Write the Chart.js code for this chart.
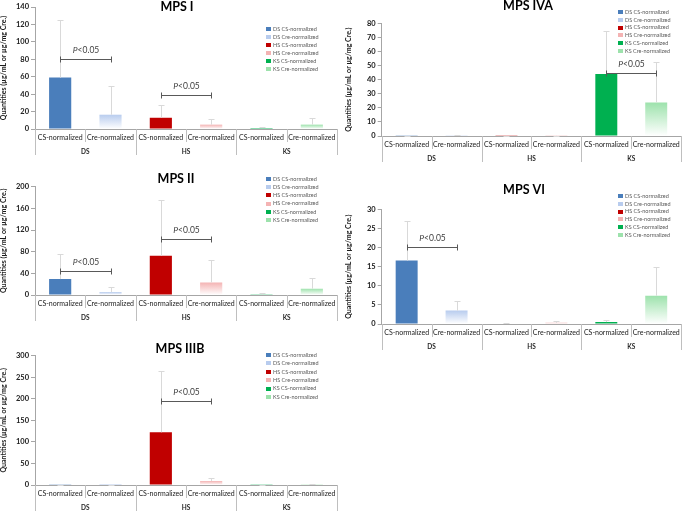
<!DOCTYPE html>
<html>
<head>
<meta charset="utf-8">
<script src="https://cdn.jsdelivr.net/npm/chart.js@4.4.1/dist/chart.umd.min.js"></script>
<style>
  html, body { margin: 0; padding: 0; background: #fff; overflow: hidden; }
  body { width: 685px; height: 513px; position: relative; }
  canvas { position: absolute; }
</style>
</head>
<body>
<canvas id="mps1"></canvas>
<canvas id="mps2"></canvas>
<canvas id="mps3b"></canvas>
<canvas id="mps4a"></canvas>
<canvas id="mps6"></canvas>
<script>
// data
const categories = ["CS-normalized", "Cre-normalized", "CS-normalized", "Cre-normalized", "CS-normalized", "Cre-normalized"];
const groups = ["DS", "HS", "KS"];
const seriesNames = ["DS CS-normalized", "DS Cre-normalized", "HS CS-normalized", "HS Cre-normalized", "KS CS-normalized", "KS Cre-normalized"];
const yLabel = "Quantities (\u00b5g/mL or \u00b5g/mg Cre.)";

const mps1Mean = [59, 16.4, 12.9, 5, 1.1, 5];
const mps1Sd = [66.5, 33, 14.5, 6.8, 0.8, 7.9];
const mps1Pairs = [[0, 1, 80], [2, 3, 39]];

const mps2Mean = [29.4, 5.5, 72.4, 23.3, 0.5, 11.7];
const mps2Sd = [46.1, 8.5, 103.1, 41.7, 3.2, 19.6];
const mps2Pairs = [[0, 1, 43.6], [2, 3, 102.5]];

const mps3bMean = [0.3, 0.2, 122.3, 9.2, 0.5, 0.6];
const mps3bSd = [0.3, 0.3, 142.3, 6.2, 0.5, 1.9];
const mps3bPairs = [[2, 3, 194]];

const mps4aMean = [0.1, 0.2, 0.1, 0.1, 44, 23.8];
const mps4aSd = [0.1, 0.3, 0.1, 0.1, 30.6, 28.7];
const mps4aPairs = [[4, 5, 45]];

const mps6Mean = [16.6, 3.5, 0.1, 0.3, 0.5, 7.4];
const mps6Sd = [10.4, 2.5, 0.1, 0.5, 0.5, 7.6];
const mps6Pairs = [[0, 1, 20.1]];

// styles
const FONT = "Lato, 'Open Sans', sans-serif";
const barColors = ["#4a7ebb", "#b8ccee", "#c00000", "#f4b3b3", "#00b050", "#9de2ac"];
const fadeBars = [false, true, false, true, false, true];

function makeExtras(c) {
  return {
    id: "extras",
    afterDatasetsDraw(chart) {
      const ctx = chart.ctx, xs = chart.scales.x, ys = chart.scales.y;
      ctx.save();
      // error bars
      ctx.strokeStyle = "#d9d9d9";
      ctx.lineWidth = 1;
      c.mean.forEach((m, i) => {
        const px = Math.round(xs.getPixelForValue(i)) + 0.5;
        const y0 = ys.getPixelForValue(m), y1 = Math.round(ys.getPixelForValue(m + c.sd[i])) + 0.5;
        ctx.beginPath();
        ctx.moveTo(px, y0);
        ctx.lineTo(px, y1);
        ctx.moveTo(px - 3, y1);
        ctx.lineTo(px + 3, y1);
        ctx.stroke();
      });
      // significance brackets
      c.pairs.forEach(([a, b, v]) => {
        const x0 = Math.round(xs.getPixelForValue(a)) + 0.5;
        const x1 = Math.round(xs.getPixelForValue(b)) + 0.5;
        const py = Math.round(ys.getPixelForValue(v)) + 0.5;
        ctx.strokeStyle = "#595959";
        ctx.beginPath();
        ctx.moveTo(x0, py); ctx.lineTo(x1, py);
        ctx.moveTo(x0, py - 3); ctx.lineTo(x0, py + 3);
        ctx.moveTo(x1, py - 3); ctx.lineTo(x1, py + 3);
        ctx.stroke();
        const italic = "italic 8.5px " + FONT, plain = "8.5px " + FONT;
        ctx.font = italic;
        const wP = ctx.measureText("P").width;
        ctx.font = plain;
        const wR = ctx.measureText("<0.05").width;
        let tx = (x0 + x1) / 2 - (wP + wR) / 2;
        ctx.fillStyle = "#404040";
        ctx.textBaseline = "middle";
        ctx.textAlign = "left";
        ctx.font = italic;
        ctx.fillText("P", tx, py - 9);
        ctx.font = plain;
        ctx.fillText("<0.05", tx + wP, py - 9);
      });
      ctx.restore();
    },
    afterDraw(chart) {
      const ctx = chart.ctx, xs = chart.scales.x;
      const bottom = chart.chartArea.bottom;
      const half = (xs.getPixelForValue(1) - xs.getPixelForValue(0)) / 2;
      ctx.save();
      // category / group separators
      ctx.strokeStyle = "#bfbfbf";
      ctx.lineWidth = 1;
      for (let k = 0; k <= categories.length; k++) {
        const bx = Math.round(xs.getPixelForValue(0) - half + 2 * half * k) + 0.5;
        ctx.beginPath();
        ctx.moveTo(bx, bottom);
        ctx.lineTo(bx, bottom + (k % 2 === 0 ? 26 : 13));
        ctx.stroke();
      }
      ctx.fillStyle = "#262626";
      ctx.font = "bold 6.5px " + FONT;
      ctx.textAlign = "center";
      ctx.textBaseline = "middle";
      groups.forEach((g, i) => {
        const gx = (xs.getPixelForValue(2 * i) + xs.getPixelForValue(2 * i + 1)) / 2;
        ctx.fillText(g, gx, bottom + 22.5);
      });
      // title
      ctx.fillStyle = "#000";
      ctx.font = "bold 12.5px " + FONT;
      ctx.fillText(c.title, c.titleAt[0], c.titleAt[1]);
      // legend
      ctx.textAlign = "left";
      ctx.font = "5.5px " + FONT;
      seriesNames.forEach((name, i) => {
        const ly = c.legendAt[1] + i * c.legendAt[2];
        ctx.fillStyle = barColors[i];
        ctx.fillRect(c.legendAt[0], Math.round(ly) - 2, 5, 4);
        ctx.fillStyle = "#595959";
        ctx.fillText(name, c.legendAt[0] + 7, ly);
      });
      ctx.restore();
    }
  };
}

function makeChart(id, c) {
  const el = document.getElementById(id);
  const cw = c.canvas[2], ch = c.plot[3] + 40 - c.canvas[1];
  el.width = cw; el.height = ch;
  el.style.left = c.canvas[0] + "px";
  el.style.top = c.canvas[1] + "px";
  const yWidth = c.plot[0] - c.canvas[0];
  const local = {
    title: c.title, mean: c.mean, sd: c.sd, pairs: c.pairs,
    titleAt: [c.titleAt[0] - c.canvas[0], c.titleAt[1] - c.canvas[1]],
    legendAt: [c.legendAt[0] - c.canvas[0], c.legendAt[1] - c.canvas[1], c.legendAt[2]]
  };
  return new Chart(el.getContext("2d"), {
    type: "bar",
    data: {
      labels: categories,
      datasets: seriesNames.map((name, i) => ({
        label: name,
        data: c.mean.map((v, j) => (j === i ? v : null)),
        backgroundColor: (ctx) => {
          if (!fadeBars[i]) return barColors[i];
          const chart = ctx.chart, ys = chart.scales.y;
          if (!chart.chartArea || !ys) return barColors[i];
          const top = ys.getPixelForValue(c.mean[i]);
          const base = ys.getPixelForValue(0);
          if (!isFinite(top) || base - top < 1) return barColors[i];
          const g = chart.ctx.createLinearGradient(0, top, 0, base);
          g.addColorStop(0, barColors[i]);
          g.addColorStop(1, "#ffffff");
          return g;
        },
        borderWidth: 0,
        barPercentage: 0.44,
        categoryPercentage: 1
      }))
    },
    options: {
      responsive: false,
      animation: false,
      layout: {
        padding: {
          left: 0,
          top: c.plot[1] - c.canvas[1],
          right: c.canvas[0] + cw - c.plot[2],
          bottom: 10
        }
      },
      plugins: { legend: { display: false }, tooltip: { enabled: false }, title: { display: false } },
      scales: {
        x: {
          stacked: true,
          grid: { display: true, drawOnChartArea: false, drawTicks: false, color: "#bfbfbf" },
          border: { color: "#a6a6a6" },
          ticks: { color: "#1a1a1a", padding: 5, maxRotation: 0, autoSkip: false, font: { family: FONT, size: 7 } },
          afterFit: (s) => { s.height = 30; }
        },
        y: {
          min: 0,
          max: c.yMax,
          grid: { drawOnChartArea: false, drawTicks: true, tickLength: 4, color: "#a6a6a6" },
          border: { color: "#a6a6a6" },
          ticks: { stepSize: c.yStep, padding: 2, color: "#1a1a1a", font: { family: FONT, size: 7.5, weight: "bold" } },
          title: { display: true, text: yLabel, color: "#1a1a1a", padding: 0, font: { family: FONT, size: 7, weight: "bold" } },
          afterFit: (s) => { s.width = yWidth; }
        }
      }
    },
    plugins: [makeExtras(local)]
  });
}

makeChart("mps1", {
  title: "MPS I", mean: mps1Mean, sd: mps1Sd, pairs: mps1Pairs, yMax: 140, yStep: 20,
  canvas: [0, 0, 345], plot: [35, 7, 337, 129], titleAt: [177, 7], legendAt: [266, 29, 8]
});
makeChart("mps2", {
  title: "MPS II", mean: mps2Mean, sd: mps2Sd, pairs: mps2Pairs, yMax: 200, yStep: 20,
  canvas: [0, 170, 345], plot: [35, 186.7, 337, 295.3], titleAt: [176, 178.5], legendAt: [266, 179, 8.2]
});
makeChart("mps3b", {
  title: "MPS IIIB", mean: mps3bMean, sd: mps3bSd, pairs: mps3bPairs, yMax: 300, yStep: 50,
  canvas: [0, 340, 345], plot: [35, 355.7, 337, 485.7], titleAt: [180, 349], legendAt: [266, 355, 8.4]
});
makeChart("mps4a", {
  title: "MPS IVA", mean: mps4aMean, sd: mps4aSd, pairs: mps4aPairs, yMax: 80, yStep: 10,
  canvas: [345, 0, 340], plot: [381.7, 23.3, 682, 136.7], titleAt: [528, 6], legendAt: [618, 12, 7.8]
});
makeChart("mps6", {
  title: "MPS VI", mean: mps6Mean, sd: mps6Sd, pairs: mps6Pairs, yMax: 30, yStep: 5,
  canvas: [345, 170, 340], plot: [381.7, 209.3, 682, 324.3], titleAt: [524, 190], legendAt: [618, 196, 7.8]
});
</script>
</body>
</html>
